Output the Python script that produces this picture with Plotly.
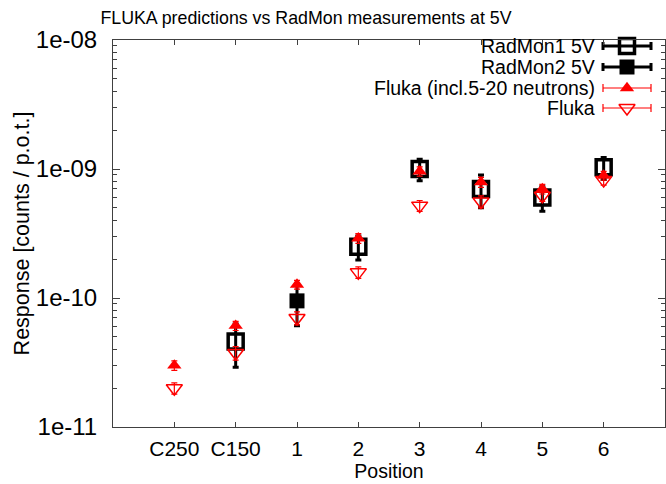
import plotly.graph_objects as go

# ---------------- data ----------------
positions = ["C250", "C150", "1", "2", "3", "4", "5", "6"]

radmon1 = [None, 4.6e-11, None, 2.5e-10, 1.0e-9, 7.0e-10, 6.0e-10, 1.03e-9]
radmon1_err = [0, 1.7e-11, 0, 5.3e-11, 1.9e-10, 2.0e-10, 1.3e-10, 2.0e-10]

radmon2 = [None, None, 9.5e-11, None, None, None, None, None]
radmon2_err = [0, 0, 3.4e-11, 0, 0, 0, 0, 0]

fluka_incl = [3.0e-11, 6.1e-11, 1.27e-10, 2.9e-10, 9.6e-10, 7.9e-10, 7.0e-10, 8.9e-10]
fluka_incl_err = [2.5e-12, 5e-12, 1.0e-11, 2.5e-11, 8e-11, 7e-11, 6e-11, 7e-11]

fluka = [2.0e-11, 3.75e-11, 7.0e-11, 1.58e-10, 5.2e-10, 5.6e-10, 6.2e-10, 8.2e-10]
fluka_err = [2.0e-12, 4.5e-12, 8e-12, 1.6e-11, 5e-11, 6e-11, 6e-11, 7e-11]

series_names = ["RadMon1 5V", "RadMon2 5V", "Fluka (incl.5-20 neutrons)", "Fluka"]

y_tickvals = [1e-11, 1e-10, 1e-9, 1e-8]
y_ticktext = ["1e-11", "1e-10", "1e-09", "1e-08"]

FONT = "Liberation Sans, Arial, Helvetica, sans-serif"

# ---------------- styles ----------------
styles = [
    dict(marker=dict(symbol="square-open", size=15, color="black", line=dict(width=3.5, color="black")),
         err=dict(color="black", thickness=3, width=3)),
    dict(marker=dict(symbol="square", size=15, color="black", line=dict(width=0)),
         err=dict(color="black", thickness=3, width=3)),
    dict(marker=dict(symbol="triangle-up", size=12.5, color="#ff0000", line=dict(width=0)),
         err=dict(color="#ff0000", thickness=1.2, width=3)),
    dict(marker=dict(symbol="triangle-down-open", size=14, color="#ff0000", line=dict(width=1.5, color="#ff0000")),
         err=dict(color="#ff0000", thickness=1.2, width=3)),
]

values = [radmon1, radmon2, fluka_incl, fluka]
errors = [radmon1_err, radmon2_err, fluka_incl_err, fluka_err]

fig = go.Figure()
for name, vals, errs, st in zip(series_names, values, errors, styles):
    fig.add_trace(go.Scatter(
        x=positions, y=vals, mode="markers", name=name, showlegend=False,
        marker=st["marker"],
        error_y=dict(type="data", array=errs, visible=True, **st["err"]),
        cliponaxis=False,
    ))

# ---------------- custom gnuplot-style key (text right, sample on the right) ----------------
key_text_x = 597
key_sample_x = 627
key_half_len = 24
key_rows = [46, 67, 88, 108]
for name, st, ky in zip(series_names, styles, key_rows):
    fig.add_trace(go.Scatter(
        x=[key_sample_x], y=[ky], xaxis="x2", yaxis="y2", mode="markers",
        showlegend=False, hoverinfo="skip", marker=st["marker"],
        error_x=dict(type="constant", value=key_half_len, visible=True,
                     color=st["err"]["color"], thickness=st["err"]["thickness"], width=4),
        cliponaxis=False,
    ))
    fig.add_annotation(x=key_text_x, y=ky, xref="x2", yref="y2", text=name,
                       showarrow=False, xanchor="right", yanchor="middle",
                       font=dict(family=FONT, size=19.5, color="black"))

axis_line = "#404040"
fig.update_layout(
    width=666, height=484,
    margin=dict(l=113, r=1, t=40, b=57),
    paper_bgcolor="white", plot_bgcolor="white",
    font=dict(family=FONT, size=19, color="black"),
    title=dict(text="FLUKA predictions vs RadMon measurements at 5V",
               x=306 / 666, xanchor="center", y=1 - 18 / 484, yanchor="middle",
               xref="container", yref="container",
               font=dict(family=FONT, size=17.8, color="black")),
    xaxis=dict(
        type="category", range=[-1, 8], showgrid=False, zeroline=False,
        showline=True, linecolor=axis_line, linewidth=1, mirror="ticks",
        ticks="inside", ticklen=5, tickcolor=axis_line, tickwidth=1,
        title=dict(text="Position", standoff=4, font=dict(size=19.5)),
        tickfont=dict(size=21), ticklabelstandoff=3,
    ),
    yaxis=dict(
        type="log", range=[-11, -8], showgrid=False, zeroline=False,
        showline=True, linecolor=axis_line, linewidth=1, mirror="ticks",
        ticks="inside", ticklen=7, tickcolor=axis_line, tickwidth=1,
        tickmode="array", tickvals=y_tickvals, ticktext=y_ticktext,
        minor=dict(ticks="inside", ticklen=4, dtick="D1", tickcolor=axis_line, showgrid=False),
        title=dict(text="Response [counts / p.o.t.]", standoff=0, font=dict(size=21.5)),
        tickfont=dict(size=24), ticklabelstandoff=10,
    ),
    xaxis2=dict(overlaying="x", range=[113, 665], visible=False, fixedrange=True),
    yaxis2=dict(overlaying="y", range=[427, 40], visible=False, fixedrange=True),
)

fig.write_html("out.html")
